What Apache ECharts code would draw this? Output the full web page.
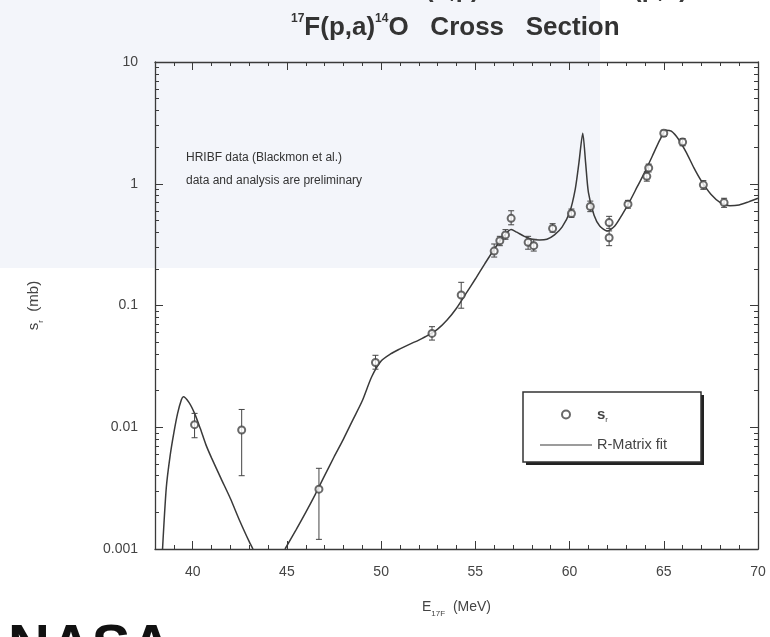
<!DOCTYPE html>
<html>
<head>
<meta charset="utf-8">
<script src="https://cdn.jsdelivr.net/npm/echarts@6/dist/echarts.min.js"></script>
<style>
html,body{margin:0;padding:0;background:#fff;}
#c{width:770px;height:637px;}
</style>
</head>
<body>
<div id="c"></div>
<script>
// ---- data ----
// R-Matrix fit, segment 1 (low-energy bump)
const fit1E = [38.4, 38.6, 38.8, 39.0, 39.2, 39.4, 39.5, 39.8, 40.1, 40.4, 40.7, 41.0, 41.5, 42.0, 42.5, 43.0, 43.2];
const fit1V = [0.001, 0.0032, 0.0058, 0.009, 0.013, 0.0168, 0.0178, 0.016, 0.013, 0.0098, 0.0072, 0.0056, 0.0038, 0.0026, 0.0017, 0.00115, 0.001];
// R-Matrix fit, segment 2
const fit2E = [44.9, 45.5, 46.0, 46.5, 47.0, 47.5, 48.0, 48.5, 49.0, 49.5, 50.0, 50.5, 51.0, 51.5, 52.0, 52.5, 53.0, 53.5, 54.0, 54.5, 55.0, 55.5, 56.0, 56.5, 56.9, 57.2, 57.6, 58.0, 58.4, 58.8, 59.2, 59.6, 60.0, 60.3, 60.5, 60.7, 60.85, 61.0, 61.3, 61.6, 62.0, 62.4, 62.8, 63.2, 63.6, 64.0, 64.4, 64.8, 65.1, 65.4, 65.8, 66.2, 66.6, 67.0, 67.5, 68.0, 68.5, 69.0, 69.5, 70.0];
const fit2V = [0.001, 0.00145, 0.002, 0.0028, 0.004, 0.0057, 0.008, 0.0115, 0.0165, 0.026, 0.035, 0.04, 0.044, 0.048, 0.052, 0.057, 0.064, 0.076, 0.095, 0.125, 0.165, 0.22, 0.29, 0.37, 0.42, 0.4, 0.37, 0.35, 0.345, 0.35, 0.38, 0.44, 0.58, 0.9, 1.5, 2.6, 1.5, 0.85, 0.55, 0.45, 0.41, 0.45, 0.56, 0.72, 0.95, 1.25, 1.7, 2.3, 2.75, 2.7, 2.3, 1.8, 1.35, 1.05, 0.82, 0.7, 0.66, 0.67, 0.71, 0.76];
// measured cross sections with error bars
const dataE  = [40.1, 42.6, 46.7, 49.7, 52.7, 54.25, 56.0, 56.3, 56.6, 56.9, 57.8, 58.1, 59.1, 60.1, 61.1, 62.1, 62.1, 63.1, 64.1, 64.2, 65.0, 66.0, 67.1, 68.2];
const dataV  = [0.0105, 0.0095, 0.0031, 0.034, 0.059, 0.122, 0.28, 0.34, 0.38, 0.52, 0.33, 0.31, 0.43, 0.57, 0.65, 0.48, 0.36, 0.68, 1.15, 1.35, 2.6, 2.2, 0.98, 0.70];
const dataLo = [0.0082, 0.0040, 0.0012, 0.030, 0.052, 0.095, 0.25, 0.31, 0.35, 0.46, 0.29, 0.28, 0.40, 0.53, 0.59, 0.43, 0.31, 0.63, 1.05, 1.25, 2.45, 2.05, 0.90, 0.64];
const dataHi = [0.013, 0.014, 0.0046, 0.039, 0.067, 0.155, 0.32, 0.37, 0.42, 0.60, 0.37, 0.35, 0.47, 0.62, 0.72, 0.54, 0.41, 0.73, 1.25, 1.45, 2.75, 2.35, 1.06, 0.76];
// axis ticks
const xTickValues = [40, 45, 50, 55, 60, 65, 70];
const xTickLabels = ['40', '45', '50', '55', '60', '65', '70'];
const xMinorValues = [38, 39, 41, 42, 43, 44, 46, 47, 48, 49, 51, 52, 53, 54, 56, 57, 58, 59, 61, 62, 63, 64, 66, 67, 68, 69];
const yTickValues = [0.001, 0.01, 0.1, 1, 10];
const yTickLabels = ['0.001', '0.01', '0.1', '1', '10'];
const yMinorMult = [2, 3, 4, 5, 6, 7, 8, 9];

const yMinorValues = [];
[0.001, 0.01, 0.1, 1].forEach(d => yMinorMult.forEach(m => yMinorValues.push(+(d * m).toPrecision(3))));

const fitData = fit1E.map((e, i) => [e, fit1V[i]]).concat([[44, null]]).concat(fit2E.map((e, i) => [e, fit2V[i]]));
const pts = dataE.map((e, i) => [e, dataV[i]]);
const bars = dataE.map((e, i) => [e, dataV[i], dataLo[i], dataHi[i]]);

const AX = '#3a3a3a';
const FONT = 'Liberation Sans, Arial, sans-serif';

function yFmt(v) {
  for (let i = 0; i < yTickValues.length; i++) {
    if (Math.abs(Math.log10(v) - Math.log10(yTickValues[i])) < 1e-6) return yTickLabels[i];
  }
  return '';
}
function xFmt(v) {
  const i = xTickValues.indexOf(Math.round(v));
  return i >= 0 ? xTickLabels[i] : '';
}

function xAx(pos, major, labels) {
  return {
    type: 'value', min: 38, max: 70, position: pos,
    axisLine: { show: major, onZero: false, lineStyle: { color: AX, width: 1.3 } },
    axisTick: { show: true, inside: true, length: major ? 8 : 4, customValues: major ? xTickValues : xMinorValues, lineStyle: { color: AX, width: 1 } },
    axisLabel: labels ? { show: true, customValues: xTickValues, formatter: xFmt, margin: 16, fontSize: 14, color: '#444', fontFamily: FONT } : { show: false },
    splitLine: { show: false },
    name: labels ? '{e|E}{sub|17F}{n|  (MeV)}' : '',
    nameLocation: 'middle', nameGap: 47,
    nameTextStyle: {
      color: '#444', fontFamily: FONT,
      rich: {
        e: { fontSize: 14, lineHeight: 22, color: '#444', fontFamily: FONT },
        sub: { fontSize: 8, lineHeight: 10, verticalAlign: 'bottom', color: '#444', fontFamily: FONT },
        n: { fontSize: 14, lineHeight: 22, color: '#444', fontFamily: FONT }
      }
    }
  };
}
function yAx(pos, major, labels) {
  return {
    type: 'log', logBase: 10, min: 0.001, max: 10, position: pos,
    axisLine: { show: major, onZero: false, lineStyle: { color: AX, width: 1.3 } },
    axisTick: { show: true, inside: true, length: major ? 8 : 4, customValues: major ? yTickValues : yMinorValues, lineStyle: { color: AX, width: 1 } },
    axisLabel: labels ? { show: true, customValues: yTickValues, formatter: yFmt, margin: 17, fontSize: 14, color: '#444', fontFamily: FONT } : { show: false },
    splitLine: { show: false },
    minorTick: { show: false },
    name: labels ? '{s|s}{sub|r}{n|  (mb)}' : '',
    nameLocation: 'middle', nameGap: 110, nameRotate: 90,
    nameTextStyle: {
      color: '#444', fontFamily: FONT,
      rich: {
        s: { fontSize: 15, lineHeight: 22, color: '#444', fontFamily: FONT },
        sub: { fontSize: 8, lineHeight: 10, verticalAlign: 'bottom', color: '#444', fontFamily: FONT },
        n: { fontSize: 15, lineHeight: 22, color: '#444', fontFamily: FONT }
      }
    }
  };
}

const chart = echarts.init(document.getElementById('c'), null, { renderer: 'canvas' });
chart.setOption({
  backgroundColor: '#ffffff',
  animation: false,
  grid: { left: 155, right: 12, top: 62, bottom: 88 },
  xAxis: [xAx('bottom', true, true), xAx('bottom', false, false), xAx('top', true, false), xAx('top', false, false)],
  yAxis: [yAx('left', true, true), yAx('left', false, false), yAx('right', true, false), yAx('right', false, false)],
  legend: {
    left: 535, top: 402, orient: 'vertical', itemWidth: 52, itemHeight: 8, itemGap: 14,
    z: 10,
    data: [
      { name: 'sr', icon: 'emptyCircle' },
      { name: 'R-Matrix fit', icon: 'path://M0,3.5 L52,3.5 L52,4.6 L0,4.6 Z' }
    ],
    formatter: function (n) { return n === 'sr' ? '{a|s}{b|r}' : '{c|' + n + '}'; },
    textStyle: {
      color: '#444', fontFamily: FONT, fontSize: 14,
      rich: {
        a: { fontSize: 15, fontWeight: 'bold', color: '#444', fontFamily: FONT, lineHeight: 18 },
        b: { fontSize: 8, color: '#444', fontFamily: FONT, lineHeight: 10, verticalAlign: 'bottom' },
        c: { fontSize: 14.5, color: '#444', fontFamily: FONT, lineHeight: 18 }
      }
    }
  },
  graphic: [
    { type: 'rect', z: -10, silent: true, shape: { x: 0, y: 0, width: 600, height: 268 }, style: { fill: '#f3f5fa' } },
    { type: 'text', z: 5, left: 385, top: -22, style: { text: '¹⁴O(α,p)¹⁷F   and   ¹⁷F(p,α)¹⁴O', font: 'bold 25px ' + FONT, fill: '#3a3a3a' } },
    {
      type: 'text', z: 5, left: 291, top: 13,
      style: {
        text: '{sup|17}{t|F(p,a)}{sup|14}{t|O   Cross   Section}',
        fill: '#333',
        rich: {
          t: { fontSize: 26, fontWeight: 'bold', fontFamily: FONT, fill: '#333', lineHeight: 30 },
          sup: { fontSize: 12, fontWeight: 'bold', fontFamily: FONT, fill: '#333', lineHeight: 14, verticalAlign: 'top' }
        }
      }
    },
    { type: 'text', z: 5, left: 186, top: 152, style: { text: 'HRIBF data (Blackmon et al.)', font: '12px ' + FONT, fill: '#333' } },
    { type: 'text', z: 5, left: 186, top: 175, style: { text: 'data and analysis are preliminary', font: '12px ' + FONT, fill: '#333' } },
    { type: 'rect', z: 6, silent: true, shape: { x: 526, y: 395, width: 178, height: 70 }, style: { fill: '#222' } },
    { type: 'rect', z: 7, silent: true, shape: { x: 523, y: 392, width: 178, height: 70 }, style: { fill: '#fff', stroke: '#333', lineWidth: 1.5 } },
    { type: 'text', z: 5, left: 8, top: 620, style: { text: 'NASA', font: 'bold 58px ' + FONT, fill: '#111' } }
  ],
  series: [
    {
      name: 'R-Matrix fit', type: 'line', data: fitData, xAxisIndex: 0, yAxisIndex: 0,
      symbol: 'none', connectNulls: false, smooth: 0.25,
      lineStyle: { color: '#3a3a3a', width: 1.5 }, itemStyle: { color: '#3a3a3a' }, z: 3
    },
    {
      name: 'errbars', type: 'custom', xAxisIndex: 0, yAxisIndex: 0, data: bars, z: 4,
      renderItem: function (params, api) {
        const x = api.value(0);
        const lo = api.coord([x, api.value(2)]);
        const hi = api.coord([x, api.value(3)]);
        const st = { stroke: '#444', lineWidth: 1 };
        return {
          type: 'group', children: [
            { type: 'line', shape: { x1: lo[0], y1: lo[1], x2: hi[0], y2: hi[1] }, style: st },
            { type: 'line', shape: { x1: lo[0] - 3, y1: lo[1], x2: lo[0] + 3, y2: lo[1] }, style: st },
            { type: 'line', shape: { x1: hi[0] - 3, y1: hi[1], x2: hi[0] + 3, y2: hi[1] }, style: st }
          ]
        };
      }
    },
    {
      name: 'sr', type: 'scatter', data: pts, xAxisIndex: 0, yAxisIndex: 0, z: 5,
      symbol: 'emptyCircle', symbolSize: 7,
      itemStyle: { color: '#444', borderColor: '#444', borderWidth: 1.2 }
    }
  ]
});
</script>
</body>
</html>
